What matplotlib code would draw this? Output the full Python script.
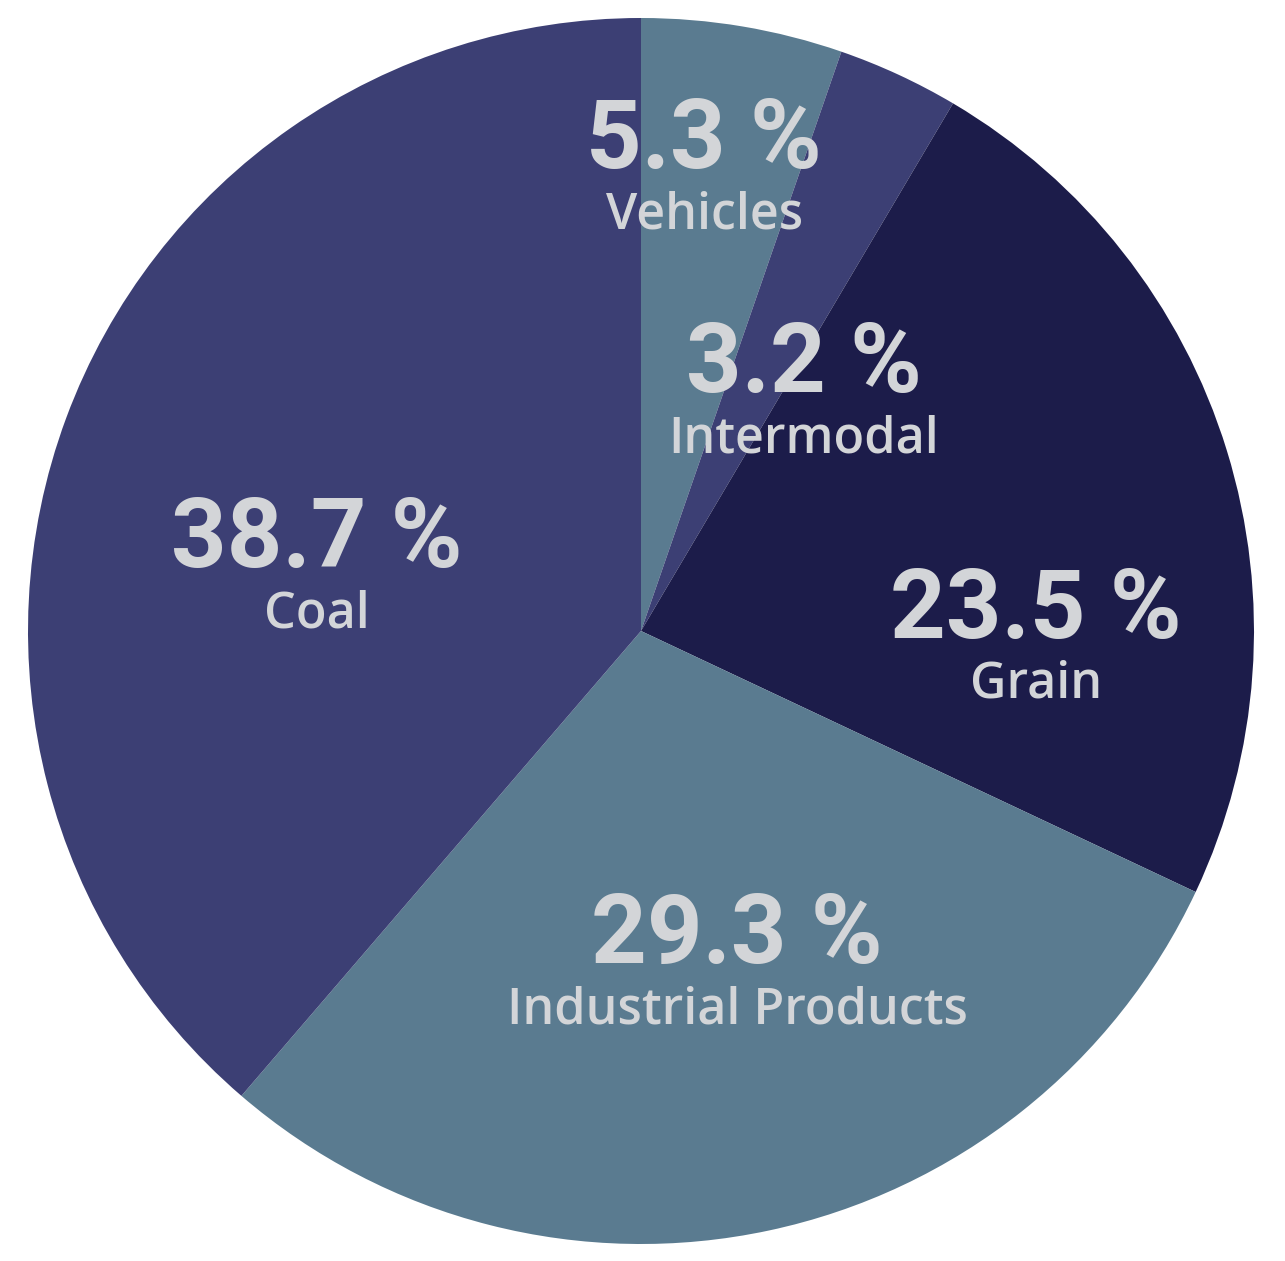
import matplotlib.pyplot as plt

labels = ['Vehicles', 'Intermodal', 'Grain', 'Industrial Products', 'Coal']
shares = [5.3, 3.2, 23.5, 29.3, 38.7]
colors = ['#5a7b90', '#3c3f74', '#1c1c4a', '#5a7b90', '#3c3f74']

# baseline of the percentage text, in pie units (center 0,0, radius 1)
label_pos = [(0.103, 0.755), (0.266, 0.390), (0.644, -0.011), (0.157, -0.542), (-0.529, 0.104)]

fig = plt.figure(figsize=(12.85, 12.61), dpi=100)
fig.patch.set_facecolor('white')
ax = fig.add_axes([28 / 1285, 17 / 1261, 1226 / 1285, 1226 / 1261])

ax.pie(shares, colors=colors, startangle=90, counterclock=False, radius=1,
       wedgeprops=dict(linewidth=0))
ax.set_xlim(-1, 1)
ax.set_ylim(-1, 1)
ax.set_aspect('equal')
ax.axis('off')

txt = '#d3d5d8'
for lab, val, (x, y) in zip(labels, shares, label_pos):
    ax.text(x, y, f'{val} %', ha='center', va='baseline', color=txt,
            fontsize=70, fontweight='bold',
            family=['Roboto', 'DejaVu Sans'])
    ax.text(x, y - 0.098, lab, ha='center', va='baseline', color=txt,
            fontsize=36.2, fontweight='semibold',
            family=['Open Sans', 'DejaVu Sans'])

fig.savefig('out.png', dpi=100)
